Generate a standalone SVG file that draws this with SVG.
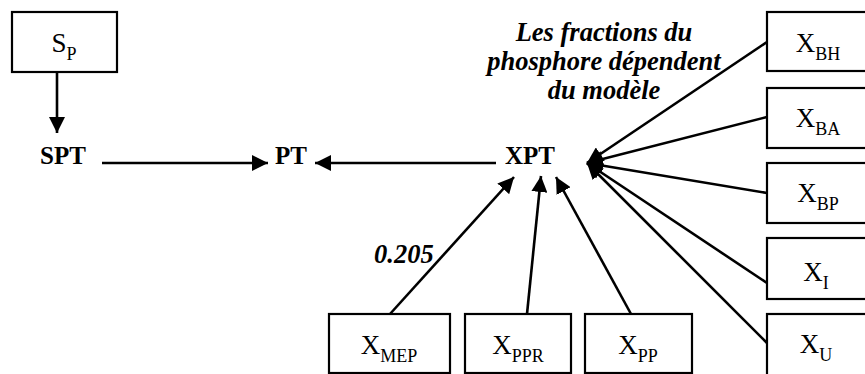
<svg xmlns="http://www.w3.org/2000/svg" width="865" height="374" viewBox="0 0 865 374">
<style>
.box{fill:#fff;stroke:#000;stroke-width:2.2}
.lbl{font-family:"Liberation Serif","Times New Roman",serif;font-size:27px;fill:#000}
.sub{font-size:18px}
.bold{font-family:"Liberation Serif","Times New Roman",serif;font-size:25px;font-weight:bold;fill:#000}
.ital{font-family:"Liberation Serif","Times New Roman",serif;font-size:26.5px;font-weight:bold;font-style:italic;fill:#000}
.con{stroke:#000;stroke-width:2.6;fill:none;marker-end:url(#ah)}
</style>
<defs>
<marker id="ah" markerUnits="userSpaceOnUse" markerWidth="17" markerHeight="16" refX="16" refY="8" orient="auto">
<path d="M0,0 L16,8 L0,16 z" fill="#000"/>
</marker>
</defs>
<rect width="865" height="374" fill="#fff"/>
<g id="connectors">
<line class="con" x1="57" y1="72" x2="57" y2="133"/>
<line class="con" x1="102" y1="163" x2="268" y2="163"/>
<line class="con" x1="496" y1="163" x2="315" y2="163"/>
<line class="con" x1="767" y1="42" x2="587" y2="163"/>
<line class="con" x1="767" y1="117" x2="587" y2="163"/>
<line class="con" x1="767" y1="193" x2="587" y2="163"/>
<line class="con" x1="767" y1="283" x2="587" y2="163"/>
<line class="con" x1="767" y1="343" x2="587" y2="163"/>
<line class="con" x1="390" y1="314" x2="514" y2="177"/>
<line class="con" x1="527" y1="314" x2="541" y2="176"/>
<line class="con" x1="631" y1="314" x2="556" y2="177"/>
</g>
<g id="Sp"><rect class="box" x="12" y="12" width="105" height="60"/><text class="lbl" x="64" y="52" text-anchor="middle">S<tspan class="sub" dy="8">P</tspan></text></g>
<g id="SPT"><text class="bold" x="40" y="164">SPT</text></g>
<g id="PT"><text class="bold" x="275" y="164">PT</text></g>
<g id="XPT"><text class="bold" x="505" y="164">XPT</text></g>
<g id="note"><text class="ital" text-anchor="middle"><tspan x="604" y="41">Les fractions du</tspan><tspan x="604" y="70">phosphore dépendent</tspan><tspan x="604" y="99">du modèle</tspan></text></g>
<g id="coef"><text class="ital" x="374" y="263">0.205</text></g>
<g id="XBH"><rect class="box" x="767" y="12" width="110" height="59"/><text class="lbl" x="818" y="52" text-anchor="middle">X<tspan class="sub" dy="8">BH</tspan></text></g>
<g id="XBA"><rect class="box" x="767" y="88" width="110" height="60"/><text class="lbl" x="818" y="127" text-anchor="middle">X<tspan class="sub" dy="8">BA</tspan></text></g>
<g id="XBP"><rect class="box" x="767" y="163" width="110" height="60"/><text class="lbl" x="818" y="202" text-anchor="middle">X<tspan class="sub" dy="8">BP</tspan></text></g>
<g id="XI"><rect class="box" x="767" y="238" width="110" height="61"/><text class="lbl" x="816" y="281" text-anchor="middle">X<tspan class="sub" dy="8">I</tspan></text></g>
<g id="XU"><rect class="box" x="767" y="314" width="110" height="70"/><text class="lbl" x="816" y="353" text-anchor="middle">X<tspan class="sub" dy="8">U</tspan></text></g>
<g id="XMEP"><rect class="box" x="329" y="314" width="121" height="59"/><text class="lbl" x="389" y="354" text-anchor="middle">X<tspan class="sub" dy="8">MEP</tspan></text></g>
<g id="XPPR"><rect class="box" x="465" y="314" width="106" height="59"/><text class="lbl" x="518" y="354" text-anchor="middle">X<tspan class="sub" dy="8">PPR</tspan></text></g>
<g id="XPP"><rect class="box" x="585" y="314" width="107" height="59"/><text class="lbl" x="638" y="354" text-anchor="middle">X<tspan class="sub" dy="8">PP</tspan></text></g>
</svg>
